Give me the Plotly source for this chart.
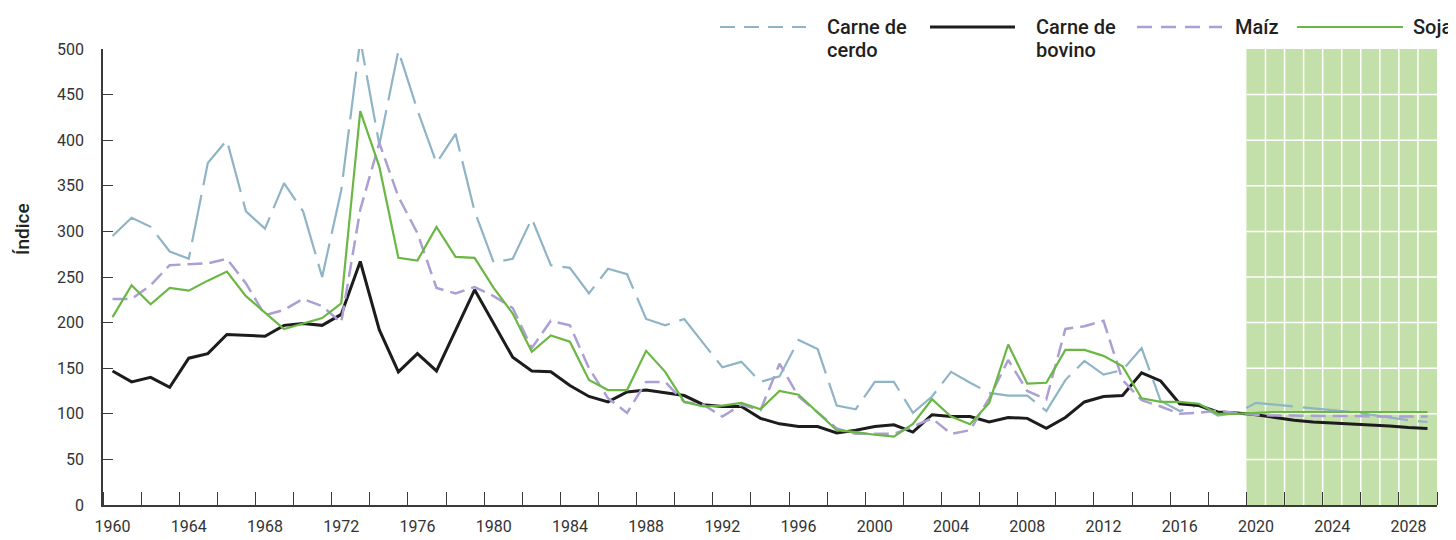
import plotly.graph_objects as go

years = list(range(1960, 2030))

carne_cerdo = [295, 315, 305, 278, 270, 375, 400, 322, 303, 353,
               322, 250, 345, 510, 395, 498, 433, 375, 407, 322,
               266, 270, 314, 263, 260, 232, 259, 253, 204, 197,
               204, 177, 151, 157, 135, 141, 181, 171, 109, 105,
               135, 135, 101, 119, 146, 134, 123, 120, 120, 103,
               137, 158, 143, 148, 172, 114, 103, 110, 98, 101,
               112, 110, 108, 106, 104, 102, 99, 96, 93, 91]

carne_bovino = [147, 135, 140, 129, 161, 166, 187, 186, 185, 197,
                199, 197, 209, 267, 192, 146, 166, 147, 192, 236,
                199, 162, 147, 146, 131, 119, 113, 124, 126, 123,
                120, 110, 108, 108, 95, 89, 86, 86, 79, 82,
                86, 88, 80, 99, 97, 97, 91, 96, 95, 84,
                96, 113, 119, 120, 145, 136, 111, 109, 102, 101,
                99, 96, 93, 91, 90, 88.5, 87.5, 86.5, 85, 84]

maiz = [226, 226, 241, 263, 264, 265, 270, 243, 208, 214,
        226, 218, 200, 324, 397, 338, 298, 238, 232, 239,
        229, 216, 172, 202, 197, 150, 117, 101, 135, 135,
        113, 110, 97, 110, 104, 155, 119, 101, 84, 78,
        78, 78, 86, 95, 78, 82, 117, 159, 125, 116,
        193, 196, 202, 137, 115, 108, 100, 101, 103.5, 100.5,
        99, 98, 98, 97.5, 97.5, 97.5, 97, 97, 97, 97]

soja = [206, 241, 220, 238, 235, 246, 256, 229, 211, 193,
        199, 205, 221, 432, 371, 271, 268, 305, 272, 271,
        238, 210, 168, 186, 179, 137, 126, 126, 169, 146,
        113, 108, 109, 112, 105, 125, 121, 101, 82, 80,
        77, 75, 89, 116, 97, 88.5, 112, 176, 133, 134,
        170, 170, 163.5, 152, 117, 113, 113, 111, 100, 100,
        101, 102, 102, 102, 102, 102, 102, 102, 102, 102]

series_labels = [["Carne de", "cerdo"], ["Carne de", "bovino"], ["Maíz"], ["Soja"]]
label_years = list(range(1960, 2029, 4))
y_ticks = list(range(0, 501, 50))
first_projection_year = 2020

colors = {"cerdo": "#8fb4c6", "bovino": "#1c1c1c", "maiz": "#ab9fd3", "soja": "#6bb744"}
text_color = "#231f20"

fig = go.Figure()
fig.add_trace(go.Scatter(x=years, y=carne_cerdo, mode="lines", name="Carne de cerdo",
                         line=dict(color=colors["cerdo"], width=2.2, dash="48px,10px")))
fig.add_trace(go.Scatter(x=years, y=carne_bovino, mode="lines", name="Carne de bovino",
                         line=dict(color=colors["bovino"], width=3)))
fig.add_trace(go.Scatter(x=years, y=maiz, mode="lines", name="Maíz",
                         line=dict(color=colors["maiz"], width=2.5, dash="15px,7px")))
fig.add_trace(go.Scatter(x=years, y=soja, mode="lines", name="Soja",
                         line=dict(color=colors["soja"], width=2.2)))

# Projection shading
x0 = first_projection_year - 0.5
x1 = years[-1] + 0.5
shapes = [dict(type="rect", xref="x", yref="y", x0=x0, x1=x1, y0=0, y1=y_ticks[-1],
               fillcolor="#c4e0aa", line=dict(width=0), layer="below")]
for yr in years:
    if yr >= first_projection_year and yr < years[-1]:
        shapes.append(dict(type="line", xref="x", yref="y", x0=yr + 0.5, x1=yr + 0.5,
                           y0=0, y1=y_ticks[-1], line=dict(color="white", width=1.5), layer="below"))
for yv in y_ticks[1:-1]:
    shapes.append(dict(type="line", xref="x", yref="y", x0=x0, x1=x1, y0=yv, y1=yv,
                       line=dict(color="white", width=1.5), layer="below"))

# Page body has an 8px margin: compensate so the plot lands where the reference has it
OFF = 8
W, H = 1456 - OFF, 540 - OFF
L, T = 103 - OFF, 49 - OFF
pw, ph = 1334, 456
R = W - L - pw
B = H - T - ph


def px(xp):
    return (xp - OFF - L) / pw


def py(yp):
    return (T + ph - (yp - OFF)) / ph


legend_items = [
    (720, 806, colors["cerdo"], "15px,9px", 2.2, 825, series_labels[0]),
    (930, 1015, colors["bovino"], "solid", 3, 1034, series_labels[1]),
    (1137, 1222, colors["maiz"], "15px,9px", 2.5, 1233, series_labels[2]),
    (1297, 1403, colors["soja"], "solid", 2.2, 1411, series_labels[3]),
]
annotations = []
for (a, b, c, d, w, tx, lines) in legend_items:
    shapes.append(dict(type="line", xref="paper", yref="paper", x0=px(a), x1=px(b),
                       y0=py(27), y1=py(27), line=dict(color=c, width=w, dash=d)))
    for i, txt in enumerate(lines):
        annotations.append(dict(text=txt, xref="paper", yref="paper", x=px(tx), y=py(27 + 23 * i),
                                xanchor="left", yanchor="middle", align="left", showarrow=False,
                                font=dict(size=20, color=text_color, family="Roboto", weight=500)))

annotations.append(dict(text="Índice", xref="paper", yref="paper", x=px(22), y=py(229),
                        xanchor="center", yanchor="middle", textangle=-90, showarrow=False,
                        font=dict(size=19, color=text_color, family="Roboto", weight=500)))

fig.update_layout(
    width=W, height=H,
    margin=dict(l=L, r=R, t=T, b=B, autoexpand=False),
    plot_bgcolor="white", paper_bgcolor="white",
    showlegend=False,
    shapes=shapes,
    annotations=annotations,
    font=dict(family="Roboto", color="#333333"),
    xaxis=dict(
        automargin=False,
        range=[years[0] - 0.5, years[-1] + 0.5],
        tickvals=label_years, ticktext=[str(v) for v in label_years],
        ticks="", showgrid=False, zeroline=False,
        showline=True, linecolor="#3a3a3a", linewidth=1.5,
        tickfont=dict(size=16, color="#333333"),
        ticklabelstandoff=6,
        minor=dict(tickvals=[v + 0.5 for v in years[1::2]] + [years[0] - 0.5],
                   ticks="inside", ticklen=13, tickcolor="#3a3a3a", tickwidth=1.3, showgrid=False),
    ),
    yaxis=dict(
        automargin=False,
        range=[0, y_ticks[-1]],
        tickvals=y_ticks,
        ticks="inside", ticklen=10, tickcolor="#3a3a3a", tickwidth=1.3,
        showgrid=False, zeroline=False,
        showline=True, linecolor="#3a3a3a", linewidth=1.5,
        tickfont=dict(size=16, color="#333333"),
        ticklabelstandoff=14,
    ),
)

fig.write_html("out.html")
